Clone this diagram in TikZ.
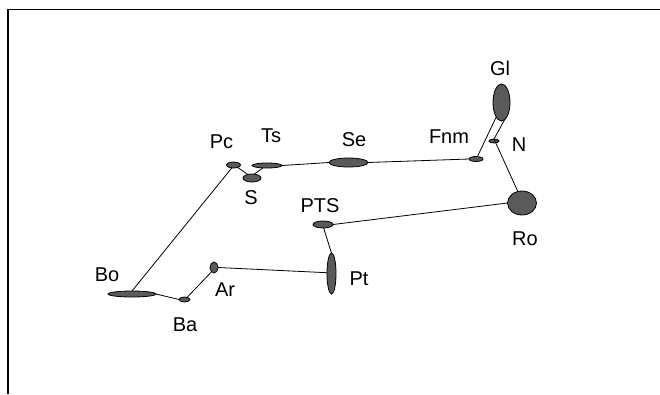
\documentclass[tikz,border=0pt]{standalone}
\usepackage{fontspec}
\setmainfont{Liberation Sans}
\usetikzlibrary{shapes.geometric}
\definecolor{blobfill}{HTML}{5A5A5A}
\begin{document}
\begin{tikzpicture}[x=1pt,y=-1pt,
  blob/.style={ellipse,draw=black,fill=blobfill,line width=0.8pt,inner sep=0pt,outer sep=0pt},
  lbl/.style={font=\fontsize{20}{24}\selectfont,inner sep=0pt},
  link/.style={draw=black,line width=0.8pt}]
\useasboundingbox (0,0) rectangle (660,394);
\draw[line width=1.6pt] (8,394) -- (8,9.5) -- (660,9.5);
% blobs
\node[blob,minimum width=17pt,minimum height=37pt] (Gl) at (501.5,102.5) {};
\node[blob,minimum width=10pt,minimum height=4pt] (N) at (494,141) {};
\node[blob,minimum width=14pt,minimum height=5pt] (Fnm) at (476,159) {};
\node[blob,minimum width=29pt,minimum height=24pt] (Ro) at (522,203) {};
\node[blob,minimum width=39pt,minimum height=9pt] (Se) at (348.5,162.5) {};
\node[blob,minimum width=20pt,minimum height=7pt] (PTS) at (323,224.5) {};
\node[blob,minimum width=9pt,minimum height=41pt] (Pt) at (331.5,273.5) {};
\node[blob,minimum width=14pt,minimum height=6pt] (Pc) at (233.5,165) {};
\node[blob,minimum width=18pt,minimum height=8pt] (S) at (252,178) {};
\node[blob,minimum width=30pt,minimum height=5pt] (Ts) at (267,165.5) {};
\node[blob,minimum width=48pt,minimum height=6pt] (Bo) at (132,294) {};
\node[blob,minimum width=11pt,minimum height=5pt] (Ba) at (184.5,299.5) {};
\node[blob,minimum width=8pt,minimum height=11pt] (Ar) at (214,267.5) {};
% links
\draw[link] (Gl.-110) -- (Fnm.60);
\draw[link] (Gl.-80) -- (N.north) -- (Ro.110);
\draw[link] (Fnm.west) -- (Se.east);
\draw[link] (Se.west) -- (Ts.east);
\draw[link] (Ts.-150) -- (S.60);
\draw[link] (Pc.-30) -- (S.140);
\draw[link] (Pc.-120) -- (Bo.north);
\draw[link] (Bo.east) -- (Ba.west);
\draw[link] (Ba.40) -- (Ar.-120);
\draw[link] (Ar.east) -- (Pt.170);
\draw[link] (PTS.-80) -- (Pt.north);
\draw[link] (PTS.east) -- (Ro.west);
% labels
\node[lbl] (tGl) at (500,68) {Gl};
\node[lbl] (tN) at (519,145) {N};
\node[lbl] (tFnm) at (449,137) {Fnm};
\node[lbl] (tRo) at (525,239) {Ro};
\node[lbl] (tSe) at (354,140) {Se};
\node[lbl] (tPTS) at (320,206) {PTS};
\node[lbl] (tPt) at (359,279) {Pt};
\node[lbl] (tPc) at (221.5,142) {Pc};
\node[lbl] (tTs) at (271,136) {Ts};
\node[lbl] (tS) at (251,198) {S};
\node[lbl] (tBo) at (107,275) {Bo};
\node[lbl] (tAr) at (225,290) {Ar};
\node[lbl] (tBa) at (185,325) {Ba};
\end{tikzpicture}
\end{document}
